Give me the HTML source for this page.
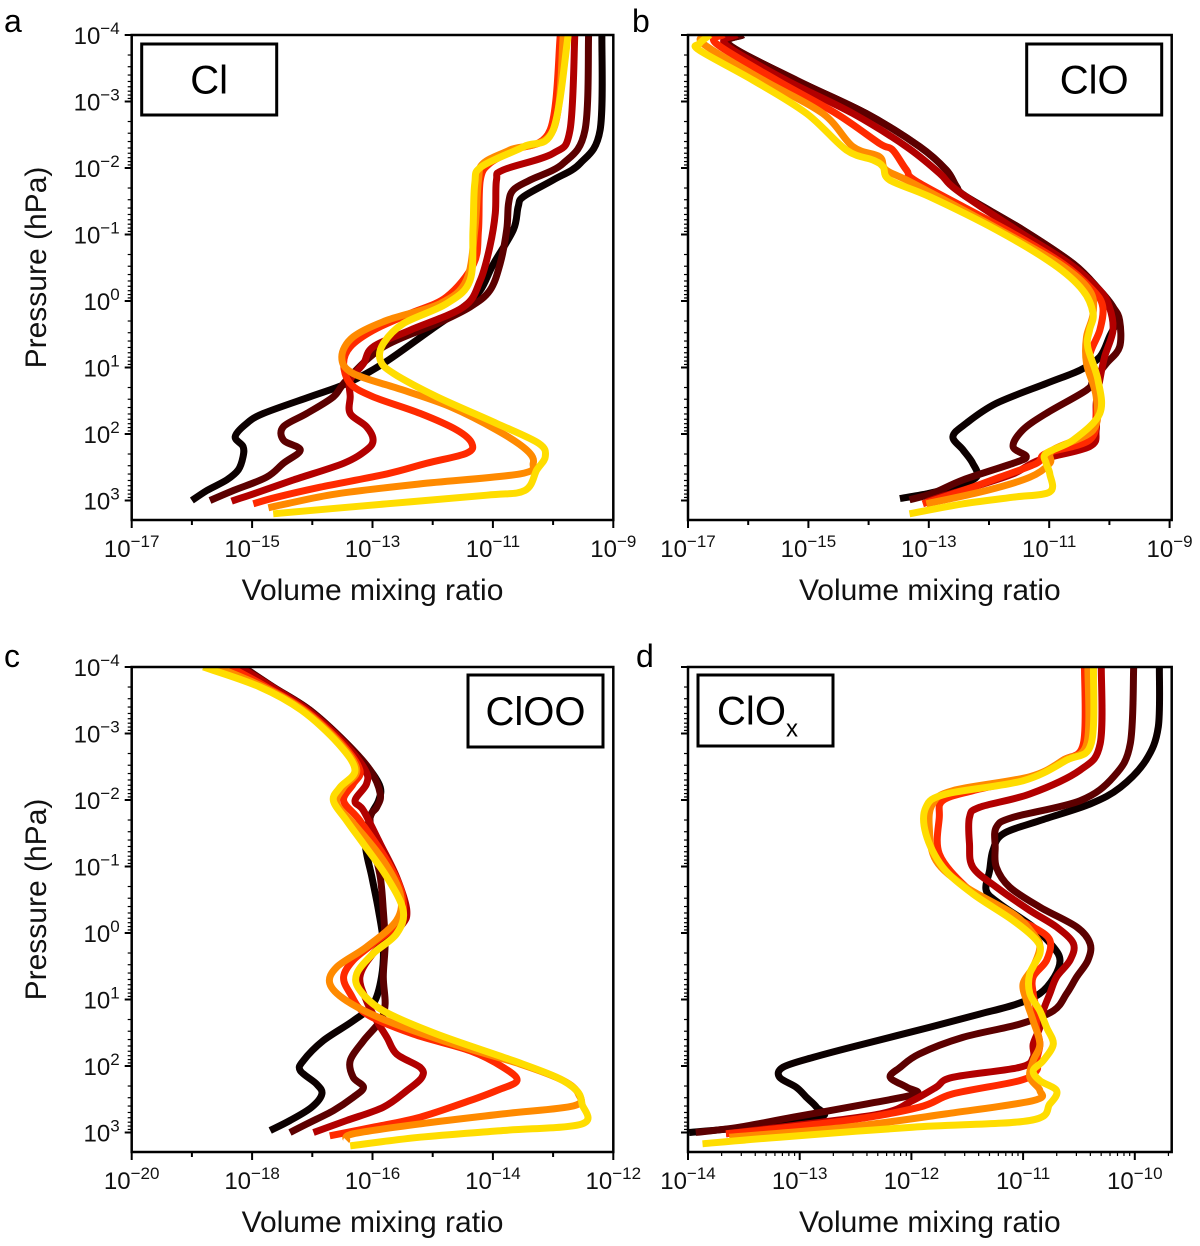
<!DOCTYPE html>
<html><head><meta charset="utf-8"><style>
html,body{margin:0;padding:0;background:#fff;}
svg{display:block;font-family:"Liberation Sans",sans-serif;}
</style></head><body>
<svg id="fig" width="1200" height="1246" viewBox="0 0 1200 1246" xmlns="http://www.w3.org/2000/svg"></svg>
<script>
// ---- data: [log10 pressure (hPa), log10 volume mixing ratio] ----
const seriesNames = ["case-1","case-2","case-3","case-4","case-5","case-6"];
const seriesColors = ["#0c0000","#5c0000","#b20000","#ff2a00","#ff8a00","#ffdd00"];
const yTickExps = [-4,-3,-2,-1,0,1,2,3];

const clBlack=[[-4,-9.19],[-2.57,-9.22],[-2.07,-9.55],[-1.82,-10.0],[-1.57,-10.49],[-1.42,-10.58],[-1.07,-10.66],[-0.56,-10.99],[-0.16,-11.21],[0.09,-11.49],[0.44,-12.04],[0.94,-12.82],[1.24,-13.43],[1.44,-14.04],[1.69,-14.81],[1.84,-15.09],[2.04,-15.28],[2.19,-15.15],[2.34,-15.15],[2.54,-15.23],[2.69,-15.42],[2.85,-15.75],[3.0,-16.0]];
const clMaroon=[[-4,-9.41],[-2.57,-9.47],[-2.07,-9.83],[-1.82,-10.38],[-1.67,-10.66],[-1.47,-10.74],[-1.07,-10.77],[-0.56,-10.88],[-0.16,-11.05],[0.09,-11.38],[0.34,-11.93],[0.69,-12.82],[1.19,-13.43],[1.44,-13.65],[1.69,-14.09],[1.89,-14.48],[2.09,-14.48],[2.24,-14.2],[2.44,-14.48],[2.65,-14.76],[2.85,-15.31],[3.0,-15.7]];
const clCrimson=[[-4,-9.64],[-2.57,-9.72],[-2.22,-10.0],[-1.97,-10.83],[-1.82,-10.94],[-1.32,-10.96],[-0.82,-11.05],[-0.31,-11.21],[0.09,-11.49],[0.44,-12.38],[0.69,-12.99],[0.94,-13.15],[1.19,-13.37],[1.44,-13.37],[1.69,-13.37],[1.89,-13.1],[2.09,-12.99],[2.24,-13.1],[2.44,-13.48],[2.69,-14.31],[2.9,-14.98],[3.01,-15.34]];
const clRed=[[-4,-9.88],[-2.57,-10.05],[-2.27,-10.66],[-2.07,-11.05],[-1.82,-11.21],[-1.07,-11.24],[-0.56,-11.32],[-0.06,-11.77],[0.19,-12.38],[0.44,-12.99],[0.69,-13.37],[0.94,-13.48],[1.24,-13.37],[1.44,-12.99],[1.69,-12.21],[1.94,-11.6],[2.14,-11.35],[2.29,-11.44],[2.44,-12.1],[2.6,-12.76],[2.8,-13.87],[2.95,-14.59],[3.05,-14.98]];
const clOrange=[[-4,-9.83],[-2.57,-10.0],[-2.27,-10.72],[-2.07,-11.16],[-1.82,-11.24],[-1.07,-11.3],[-0.31,-11.44],[0.04,-11.88],[0.29,-12.76],[0.54,-13.32],[0.84,-13.51],[1.09,-13.32],[1.34,-12.49],[1.59,-11.71],[1.94,-10.94],[2.24,-10.44],[2.44,-10.33],[2.6,-10.55],[2.75,-12.21],[2.9,-13.6],[3.05,-14.43],[3.11,-14.73]];
const clYellow=[[-4,-9.75],[-2.57,-10.0],[-2.32,-10.49],[-2.02,-11.19],[-1.77,-11.3],[-1.07,-11.33],[-0.31,-11.38],[0.04,-11.77],[0.34,-12.49],[0.64,-12.82],[0.89,-12.87],[1.09,-12.65],[1.44,-11.93],[1.84,-10.94],[2.14,-10.24],[2.34,-10.13],[2.54,-10.27],[2.85,-10.47],[2.92,-11.1],[3.05,-12.76],[3.2,-14.65]];

const cloBlack=[[-4,-16.09],[-3.85,-16.31],[-3.32,-15.2],[-2.82,-14.04],[-2.32,-13.15],[-1.97,-12.71],[-1.72,-12.54],[-1.57,-12.38],[-1.07,-11.44],[-0.56,-10.6],[-0.16,-10.16],[0.09,-9.94],[0.29,-9.88],[0.54,-10.0],[0.84,-10.16],[1.04,-10.49],[1.24,-11.05],[1.54,-11.88],[1.84,-12.38],[2.04,-12.6],[2.24,-12.43],[2.44,-12.27],[2.65,-12.21],[2.8,-12.6],[2.9,-13.04],[2.97,-13.48]];
const cloMaroon=[[-4,-16.09],[-3.85,-16.31],[-3.32,-15.2],[-2.82,-14.04],[-2.32,-13.15],[-1.97,-12.71],[-1.72,-12.54],[-1.57,-12.38],[-1.07,-11.44],[-0.56,-10.6],[-0.16,-10.16],[0.09,-9.94],[0.29,-9.83],[0.69,-9.83],[0.94,-10.05],[1.19,-10.27],[1.34,-10.38],[1.69,-11.05],[1.94,-11.44],[2.19,-11.6],[2.34,-11.38],[2.44,-11.6],[2.69,-12.43],[2.89,-12.93],[2.99,-13.32]];
const cloCrimson=[[-4,-16.2],[-3.85,-16.37],[-3.32,-15.37],[-2.82,-14.26],[-2.32,-13.37],[-1.92,-12.82],[-1.67,-12.54],[-1.07,-11.55],[-0.56,-10.66],[-0.16,-10.16],[0.09,-10.0],[0.44,-9.94],[0.84,-10.08],[1.19,-10.16],[1.54,-10.22],[1.94,-10.22],[2.19,-10.33],[2.39,-11.16],[2.6,-11.6],[2.8,-12.27],[2.95,-12.82],[3.02,-13.04]];
const cloRed=[[-4,-16.42],[-3.87,-16.53],[-3.32,-15.53],[-2.82,-14.54],[-2.37,-13.82],[-2.27,-13.6],[-1.97,-13.37],[-1.77,-13.15],[-1.07,-11.71],[-0.56,-10.77],[-0.16,-10.27],[0.09,-10.11],[0.44,-10.16],[0.84,-10.33],[1.19,-10.22],[1.69,-10.22],[2.09,-10.33],[2.29,-11.05],[2.44,-11.21],[2.65,-11.82],[2.85,-12.43],[3.05,-13.1]];
const cloOrange=[[-4,-16.64],[-3.87,-16.75],[-3.32,-15.75],[-2.82,-14.76],[-2.32,-14.26],[-2.17,-13.82],[-1.97,-13.71],[-1.77,-13.26],[-1.07,-11.82],[-0.56,-10.83],[-0.16,-10.33],[0.19,-10.27],[0.54,-10.38],[0.94,-10.38],[1.44,-10.22],[1.94,-10.27],[2.24,-10.94],[2.44,-10.99],[2.65,-11.32],[2.85,-12.04],[3.05,-13.04]];
const cloYellow=[[-4,-16.64],[-3.87,-16.81],[-3.77,-16.81],[-3.32,-15.92],[-2.82,-15.03],[-2.27,-14.37],[-2.12,-13.93],[-2.02,-13.76],[-1.82,-13.65],[-1.57,-12.99],[-1.07,-11.88],[-0.56,-10.94],[-0.16,-10.44],[0.19,-10.27],[0.44,-10.33],[0.69,-10.36],[1.19,-10.19],[1.69,-10.16],[2.09,-10.6],[2.29,-11.05],[2.44,-11.05],[2.6,-10.99],[2.87,-10.99],[2.95,-11.6],[3.05,-12.43],[3.2,-13.32]];

const clooBlack=[[-4,-18.15],[-3.7,-17.65],[-3.35,-17.04],[-2.85,-16.43],[-2.45,-16.04],[-2.19,-15.87],[-1.99,-15.9],[-1.74,-16.04],[-1.34,-16.12],[-0.84,-16.01],[-0.34,-15.9],[0.16,-15.82],[0.66,-15.85],[1.07,-15.99],[1.32,-16.32],[1.62,-16.82],[1.92,-17.15],[2.07,-17.2],[2.27,-16.93],[2.42,-16.84],[2.62,-17.01],[2.82,-17.37],[2.97,-17.7]];
const clooMaroon=[[-4,-18.15],[-3.7,-17.65],[-3.35,-17.04],[-2.85,-16.43],[-2.45,-16.04],[-2.09,-15.87],[-1.89,-15.93],[-1.74,-16.04],[-1.34,-15.99],[-0.84,-15.87],[-0.34,-15.82],[0.16,-15.79],[0.66,-15.82],[1.07,-15.79],[1.32,-15.87],[1.62,-16.15],[1.92,-16.37],[2.17,-16.32],[2.32,-16.15],[2.47,-16.32],[2.67,-16.65],[2.87,-17.09],[3.0,-17.37]];
const clooCrimson=[[-4,-18.2],[-3.7,-17.67],[-3.35,-17.07],[-2.85,-16.46],[-2.45,-16.12],[-2.24,-16.1],[-1.99,-16.29],[-1.84,-16.15],[-1.34,-15.87],[-0.84,-15.6],[-0.34,-15.43],[-0.09,-15.54],[0.31,-15.99],[0.66,-16.21],[1.02,-16.1],[1.32,-15.93],[1.57,-15.76],[1.82,-15.6],[2.02,-15.21],[2.17,-15.18],[2.37,-15.43],[2.62,-15.82],[2.82,-16.43],[3.0,-16.98]];
const clooRed=[[-4,-18.37],[-3.7,-17.76],[-3.35,-17.12],[-2.85,-16.51],[-2.45,-16.21],[-2.24,-16.32],[-1.99,-16.48],[-1.69,-16.21],[-1.09,-15.76],[-0.59,-15.51],[-0.19,-15.54],[0.16,-15.99],[0.41,-16.32],[0.66,-16.48],[0.91,-16.37],[1.22,-16.1],[1.52,-15.32],[1.77,-14.38],[2.02,-13.83],[2.22,-13.6],[2.37,-13.94],[2.52,-14.38],[2.77,-15.21],[2.92,-15.99],[3.05,-16.71]];
const clooOrange=[[-4,-18.59],[-3.7,-17.81],[-3.35,-17.15],[-2.85,-16.54],[-2.45,-16.26],[-2.19,-16.48],[-1.94,-16.59],[-1.59,-16.26],[-1.09,-15.82],[-0.59,-15.54],[-0.19,-15.6],[0.21,-16.1],[0.51,-16.59],[0.76,-16.71],[1.02,-16.43],[1.32,-15.76],[1.67,-14.66],[1.97,-13.55],[2.22,-12.83],[2.42,-12.58],[2.6,-12.66],[2.72,-13.83],[2.87,-15.21],[3.02,-16.32],[3.12,-16.43]];
const clooYellow=[[-4,-18.81],[-3.7,-17.87],[-3.35,-17.18],[-2.85,-16.57],[-2.45,-16.29],[-2.19,-16.54],[-1.99,-16.65],[-1.69,-16.43],[-1.34,-16.15],[-0.84,-15.76],[-0.34,-15.49],[0.01,-15.6],[0.31,-15.99],[0.61,-16.26],[0.86,-16.21],[1.17,-15.82],[1.52,-14.93],[1.92,-13.66],[2.17,-12.94],[2.37,-12.61],[2.57,-12.52],[2.87,-12.52],[2.97,-13.83],[3.07,-15.21],[3.2,-16.37]];

const cloxBlack=[[-4,-9.78],[-3.1,-9.79],[-2.6,-9.9],[-2.19,-10.13],[-1.94,-10.4],[-1.69,-10.85],[-1.49,-11.18],[-1.24,-11.27],[-0.94,-11.3],[-0.64,-11.33],[-0.44,-11.21],[-0.09,-10.91],[0.21,-10.73],[0.41,-10.67],[0.66,-10.72],[0.91,-10.85],[1.07,-11.06],[1.22,-11.39],[1.42,-11.84],[1.67,-12.43],[1.87,-12.88],[2.02,-13.15],[2.17,-13.18],[2.32,-13.03],[2.47,-12.94],[2.62,-12.85],[2.77,-12.82],[2.92,-13.48],[3.0,-13.99]];
const cloxMaroon=[[-4,-10.01],[-2.85,-10.04],[-2.35,-10.19],[-1.99,-10.49],[-1.74,-11.09],[-1.59,-11.24],[-1.29,-11.25],[-0.99,-11.24],[-0.69,-11.12],[-0.39,-10.85],[-0.09,-10.52],[0.16,-10.4],[0.41,-10.42],[0.66,-10.52],[0.91,-10.61],[1.17,-10.73],[1.37,-11.03],[1.57,-11.54],[1.82,-11.93],[2.02,-12.1],[2.17,-12.19],[2.32,-12.04],[2.42,-11.96],[2.57,-12.4],[2.77,-13.06],[2.92,-13.54],[3.0,-13.93]];
const cloxCrimson=[[-4,-10.3],[-2.85,-10.31],[-2.45,-10.49],[-2.09,-10.94],[-1.89,-11.39],[-1.74,-11.48],[-1.34,-11.48],[-0.99,-11.45],[-0.69,-11.24],[-0.34,-10.94],[-0.09,-10.7],[0.16,-10.55],[0.41,-10.58],[0.66,-10.7],[0.91,-10.76],[1.17,-10.82],[1.42,-10.85],[1.67,-10.91],[1.87,-10.91],[2.02,-11.03],[2.17,-11.63],[2.32,-11.78],[2.52,-11.99],[2.72,-12.28],[2.92,-13.18],[3.02,-13.66]];
const cloxRed=[[-4,-10.45],[-2.85,-10.46],[-2.6,-10.64],[-2.35,-10.91],[-2.14,-11.45],[-1.99,-11.72],[-1.74,-11.75],[-1.19,-11.75],[-0.69,-11.51],[-0.34,-11.21],[-0.09,-10.91],[0.11,-10.76],[0.41,-10.79],[0.66,-10.91],[0.91,-10.91],[1.17,-10.88],[1.42,-10.88],[1.67,-10.85],[1.92,-10.88],[2.07,-10.88],[2.22,-11.03],[2.42,-11.63],[2.62,-11.93],[2.82,-12.58],[3.02,-13.66]];
const cloxOrange=[[-4,-10.42],[-2.85,-10.43],[-2.6,-10.64],[-2.35,-10.94],[-2.14,-11.63],[-1.94,-11.81],[-1.59,-11.84],[-1.09,-11.78],[-0.69,-11.51],[-0.29,-11.09],[0.01,-10.91],[0.21,-10.85],[0.51,-10.91],[0.76,-11.0],[1.02,-10.97],[1.32,-10.91],[1.67,-10.85],[1.92,-10.91],[2.17,-10.94],[2.37,-10.85],[2.52,-10.91],[2.72,-11.69],[2.92,-12.58],[3.07,-13.63]];
const cloxYellow=[[-4,-10.37],[-2.85,-10.39],[-2.6,-10.61],[-2.29,-11.0],[-2.09,-11.69],[-1.89,-11.87],[-1.49,-11.87],[-0.99,-11.72],[-0.59,-11.45],[-0.19,-11.09],[0.11,-10.88],[0.31,-10.85],[0.61,-10.94],[0.91,-10.94],[1.17,-10.85],[1.42,-10.79],[1.67,-10.73],[1.92,-10.82],[2.07,-10.91],[2.22,-10.85],[2.37,-10.7],[2.57,-10.76],[2.82,-10.94],[2.92,-11.99],[3.07,-13.18],[3.17,-13.87]];

const panels=[
 {id:"a",label:"Cl",sub:"",left:131.7,top:35,w:481.6,h:485,xmin:-17,xmax:-9,xLabelExps:[-17,-15,-13,-11,-9],minor:false,
  box:[141.7,44,135,71],letterPos:[4,32],series:[clBlack,clMaroon,clCrimson,clRed,clOrange,clYellow],yLabels:true},
 {id:"b",label:"ClO",sub:"",left:688,top:35,w:483.7,h:485,xmin:-17,xmax:-9,xLabelExps:[-17,-15,-13,-11,-9],minor:false,
  box:[1026.7,44,135,71],letterPos:[632,32],series:[cloBlack,cloMaroon,cloCrimson,cloRed,cloOrange,cloYellow],yLabels:false},
 {id:"c",label:"ClOO",sub:"",left:131.7,top:667,w:481.6,h:485,xmin:-20,xmax:-12,xLabelExps:[-20,-18,-16,-14,-12],minor:false,
  box:[468,675,135,72],letterPos:[4,667],series:[clooBlack,clooMaroon,clooCrimson,clooRed,clooOrange,clooYellow],yLabels:true},
 {id:"d",label:"ClO",sub:"x",left:688,top:667,w:483.7,h:485,xmin:-14,xmax:-9.66,xLabelExps:[-14,-13,-12,-11,-10],minor:true,
  box:[698,675,135,71],letterPos:[636,667],series:[cloxBlack,cloxMaroon,cloxCrimson,cloxRed,cloxOrange,cloxYellow],yLabels:false}
];
const NS="http://www.w3.org/2000/svg";
const svg=document.getElementById('fig');
function mk(tag,attrs,parent){const e=document.createElementNS(NS,tag);for(const k in attrs)e.setAttribute(k,attrs[k]);(parent||svg).appendChild(e);return e;}
const PMIN=-4, PDEC=66.5;
function smoothPath(pts){
  let d='M'+pts[0][0].toFixed(1)+','+pts[0][1].toFixed(1);
  for(let i=0;i<pts.length-1;i++){
    const p0=pts[Math.max(0,i-1)],p1=pts[i],p2=pts[i+1],p3=pts[Math.min(pts.length-1,i+2)];
    const t=0.5/3;
    const c1x=p1[0]+(p2[0]-p0[0])*t,c1y=p1[1]+(p2[1]-p0[1])*t;
    const c2x=p2[0]-(p3[0]-p1[0])*t,c2y=p2[1]-(p3[1]-p1[1])*t;
    d+=' C'+c1x.toFixed(1)+','+c1y.toFixed(1)+' '+c2x.toFixed(1)+','+c2y.toFixed(1)+' '+p2[0].toFixed(1)+','+p2[1].toFixed(1);
  }
  return d;
}
function powLabel(parent,x,y,exp,anchor){
  const t=mk('text',{x:x,y:y,'font-size':24,'text-anchor':anchor,fill:'#111'},parent);
  
  
  t.appendChild(document.createTextNode('10'));
  const s=mk('tspan',{'font-size':17,dy:-10},t);
  s.textContent=(exp<0?'\u2212':'')+Math.abs(exp);
  return t;
}
panels.forEach(p=>{
  const g=mk('g',{});
  
  
  const xPerDec = p.id==='d'?111.7:60.2;
  const X=v=>p.left+(v-p.xmin)*xPerDec;
  const Y=lp=>p.top+(lp-PMIN)*PDEC;
  const clip=mk('clipPath',{id:'clip'+p.id},g);
  mk('rect',{x:p.left,y:p.top,width:p.w,height:p.h},clip);
  const sg=mk('g',{'clip-path':'url(#clip'+p.id+')'},g);
  p.series.forEach((s,i)=>{
    const pts=s.map(d=>[X(d[1]),Y(d[0])]);
    const pl=mk('path',{d:smoothPath(pts),fill:'none',stroke:seriesColors[i],'stroke-width':7,'stroke-linejoin':'round','stroke-linecap':'butt'},sg);
    
    
  });
  const fr=mk('rect',{x:p.left,y:p.top,width:p.w,height:p.h,fill:'none',stroke:'#000','stroke-width':2.5},g);
  
  
  for(let e=-4;e<=3;e++){
    mk('line',{x1:p.left-7,x2:p.left,y1:Y(e),y2:Y(e),stroke:'#000','stroke-width':2},g);
    for(let m=2;m<=9;m++){const lp=e+Math.log10(m);if(lp>3.29)break;
      mk('line',{x1:p.left-4,x2:p.left,y1:Y(lp),y2:Y(lp),stroke:'#000','stroke-width':1.2},g);}
  }
  if(p.yLabels){yTickExps.forEach(e=>powLabel(g,p.left-12,Y(e)+9,e,'end'));}
  const bot=p.top+p.h;
  for(let e=Math.ceil(p.xmin);e<=Math.floor(p.xmax);e++){
    const major=p.xLabelExps.includes(e);
    mk('line',{x1:X(e),x2:X(e),y1:bot,y2:bot+(major?8:5),stroke:'#000','stroke-width':2},g);
    if(p.minor){for(let m=2;m<=9;m++){const v=e+Math.log10(m);if(v>p.xmax)break;
      mk('line',{x1:X(v),x2:X(v),y1:bot,y2:bot+4,stroke:'#000','stroke-width':1.2},g);}}
  }
  p.xLabelExps.forEach(e=>powLabel(g,X(e),bot+37,e,'middle'));
  const xt=mk('text',{x:p.left+p.w/2,y:bot+80,'font-size':30,'text-anchor':'middle',fill:'#111'},g);
  
  
  xt.textContent='Volume mixing ratio';
  if(p.yLabels){
    const yt=mk('text',{x:0,y:0,'font-size':30,'text-anchor':'middle',fill:'#111',transform:'translate(46,'+(p.top+p.h/2-10)+') rotate(-90)'},g);
    
    
    yt.textContent='Pressure (hPa)';
  }
  const bx=mk('rect',{x:p.box[0],y:p.box[1],width:p.box[2],height:p.box[3],fill:'#fff',stroke:'#000','stroke-width':3},g);
  
  
  const lt=mk('text',{x:p.box[0]+p.box[2]/2-(p.sub?8:0),y:p.box[1]+p.box[3]/2+14,'font-size':40,'text-anchor':'middle',fill:'#000'},g);
  
  
  lt.appendChild(document.createTextNode(p.label));
  if(p.sub){const s=mk('tspan',{'font-size':24,dy:12},lt);s.textContent=p.sub;}
  const letter=mk('text',{x:p.letterPos[0],y:p.letterPos[1],'font-size':32,fill:'#000'},g);
  
  
  letter.textContent=p.id;
});
</script>
</body></html>
